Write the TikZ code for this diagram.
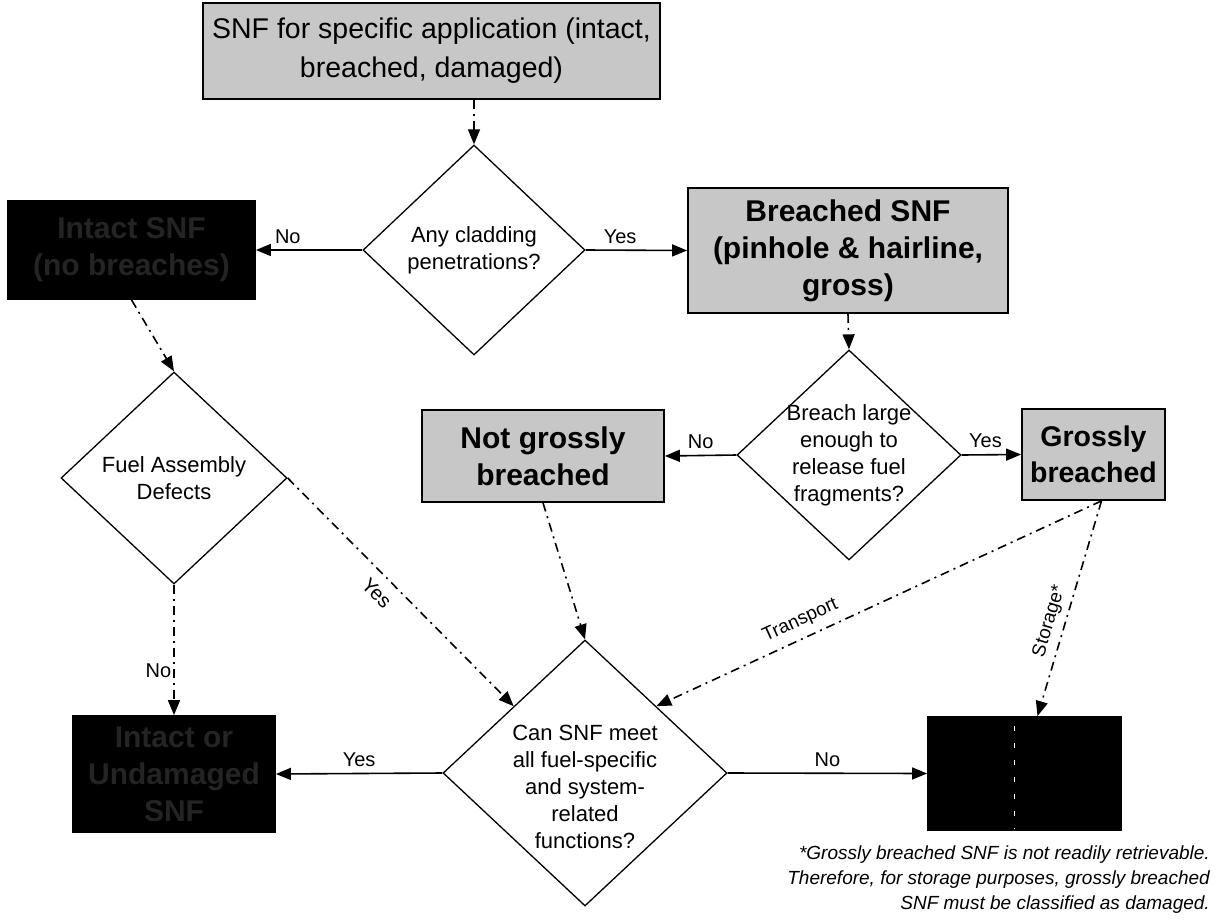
\documentclass[tikz,border=0pt]{standalone}
\usepackage{fontspec}
\setmainfont{Liberation Sans}
\usetikzlibrary{shapes.geometric,arrows.meta,calc}

\begin{document}
\begin{tikzpicture}[x=1pt,y=-1pt,
  box/.style={draw=black, line width=1.8pt, fill=black!22, align=center, inner sep=0pt,
              font=\fontsize{30}{37}\selectfont\bfseries},
  darkbox/.style={draw=black, line width=1.8pt, fill=black, text=black!86, align=center,
                  inner sep=0pt, font=\fontsize{30}{37}\selectfont\bfseries},
  decision/.style={diamond, draw=black, line width=1.3pt, inner sep=0pt},
  dtext/.style={align=center, inner sep=0pt, font=\fontsize{22}{27}\selectfont},
  flow/.style={line width=1.6pt, -{Triangle[length=15pt,width=12pt]}},
  dashflow/.style={flow, dash pattern=on 9pt off 5pt on 2pt off 5pt},
  lbl/.style={font=\fontsize{20}{24}\selectfont, inner sep=2pt},
  slbl/.style={font=\fontsize{19}{22}\selectfont, inner sep=1pt},
]
\useasboundingbox (0,0) rectangle (1216,921);

% boxes
\node[box, font=\fontsize{28.5}{39}\selectfont, minimum width=457pt, minimum height=96pt]
  (top) at (431.5,51) {SNF for specific application (intact,\\breached, damaged)};
\node[darkbox, minimum width=247pt, minimum height=98pt]
  (ib) at (131.5,250) {Intact SNF\\(no breaches)};
\node[box, minimum width=320pt, minimum height=125pt]
  (br) at (848,250.5) {Breached SNF\\(pinhole \& hairline,\\gross)};
\node[box, minimum width=242pt, minimum height=92pt]
  (ng) at (543,456) {Not grossly\\breached};
\node[box, font=\fontsize{28.5}{36}\selectfont\bfseries, minimum width=143pt, minimum height=91pt]
  (gb) at (1093.5,454.5) {Grossly\\breached};
\node[darkbox, minimum width=202pt, minimum height=116pt]
  (ub) at (174,774) {Intact or\\Undamaged\\SNF};
\node[darkbox, minimum width=193pt, minimum height=113pt]
  (db) at (1024.5,773.5) {};

% decisions
\node[decision, minimum width=222pt, minimum height=210pt,
  label={[dtext]center:Any cladding\\penetrations?}] (d1) at (474,250) {};
\node[decision, minimum width=226pt, minimum height=212pt,
  label={[dtext]center:Fuel Assembly\\Defects}] (d2) at (174,478) {};
\node[decision, minimum width=224pt, minimum height=210pt,
  label={[dtext]center:Breach large\\enough to\\release fuel\\fragments?}] (d3) at (849,455) {};
\node[decision, minimum width=284pt, minimum height=266pt,
  label={[dtext, yshift=-14pt]center:Can SNF meet\\all fuel-specific\\and system-\\related\\functions?}] (d4) at (585,773) {};

% footnote
\node[anchor=north east, align=right, inner sep=0pt,
  font=\fontsize{19}{25}\selectfont\itshape] (fn) at (1210,846)
  {*Grossly breached SNF is not readily retrievable.\\
   Therefore, for storage purposes, grossly breached\\
   SNF must be classified as damaged.};

% connector end points
\coordinate (gbs) at ($(gb.south)+(8,0)$);
\coordinate (dbt) at ($(db.north)+(13,0)$);

% connectors
\draw[dashflow] (d1.north |- top.south) -- (d1.north);
\draw[flow] (d1.west) -- node[lbl, above=4pt, pos=0.7] {No} (ib.east);
\draw[flow] (d1.east) -- node[lbl, above=4pt, pos=0.34] {Yes} (br.west);
\draw[dashflow] (ib.south) -- (d2.north);
\draw[dashflow] (d2.south) -- node[lbl, left, pos=0.66] {No} (ub.north);
\draw[dashflow] (d2.east) -- node[lbl, sloped, below=8pt, pos=0.45] {Yes} (d4.north west);
\draw[dashflow] (br.south) -- (d3.north);
\draw[flow] (d3.west) -- node[lbl, above=4pt, pos=0.5] {No} (ng.east);
\draw[flow] (d3.east) -- node[lbl, above=4pt, pos=0.4] {Yes} (gb.west);
\draw[dashflow] (ng.south) -- (d4.north);
\draw[dashflow] (gbs) -- node[slbl, sloped, above=7pt, pos=0.66] {Transport} (d4.north east);
\draw[dashflow] (gbs) -- node[slbl, sloped, above=5pt, pos=0.58] {Storage*} (dbt);
\draw[flow] (d4.west) -- node[lbl, above=4pt, pos=0.5] {Yes} (ub.east);
\draw[flow] (d4.east) -- node[lbl, above=4pt, pos=0.5] {No} (db.west);

% light streak across the dark box
\draw[white, line width=1pt, dash pattern=on 5pt off 12pt]
  ($(db.north)+(-10.5,10)$) -- ($(db.south)+(-10.5,-2)$);
\end{tikzpicture}
\end{document}
